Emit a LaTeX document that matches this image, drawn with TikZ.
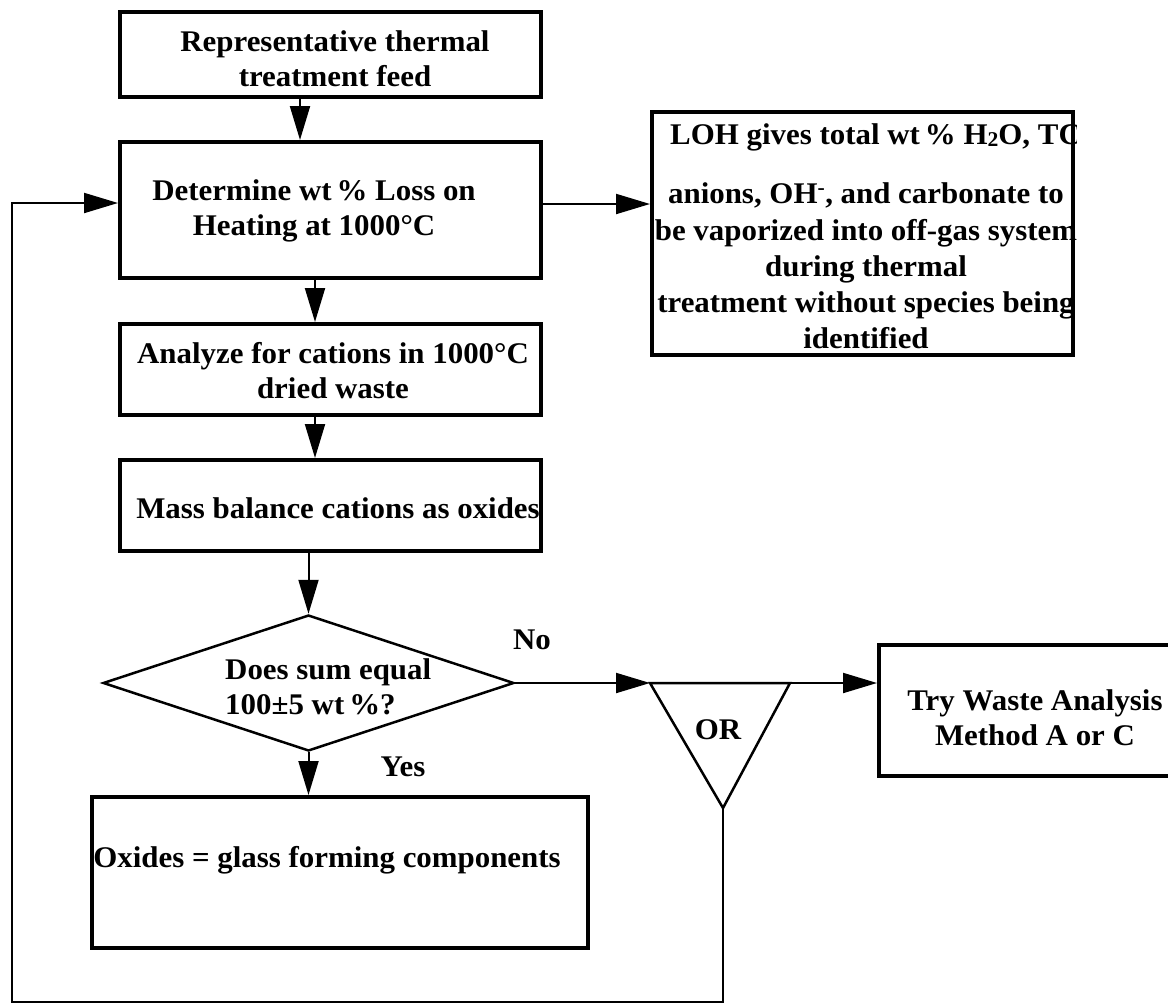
\documentclass[tikz,border=0pt]{standalone}
\usepackage{fontspec}
\setmainfont{Liberation Serif}[FakeStretch=1.03]
\usetikzlibrary{arrows.meta,shapes.geometric}
\begin{document}
\begin{tikzpicture}[x=1pt,y=-1pt,
  box/.style={draw, line width=4pt, inner sep=0pt, rectangle},
  txt/.style={font=\fontsize{30}{35}\selectfont\bfseries, align=center, inner sep=0pt},
  conn/.style={line width=2pt},
  arr/.style={conn, -{Triangle[length=34pt,width=20pt]}},
]
\useasboundingbox (0,0) rectangle (1168,1004);
\clip (0,0) rectangle (1168,1004);

% boxes
\node[box, minimum width=421pt, minimum height=85pt]  (b1)  at (330.5,54.5) {};
\node[box, minimum width=421pt, minimum height=136pt] (b2)  at (330.5,210) {};
\node[box, minimum width=421pt, minimum height=91pt]  (b3)  at (330.5,369.5) {};
\node[box, minimum width=421pt, minimum height=91pt]  (b4)  at (330.5,505.5) {};
\node[box, minimum width=496pt, minimum height=151pt] (b5)  at (340,872.5) {};
\node[box, minimum width=421pt, minimum height=243pt] (loh) at (862.5,233.5) {};
\node[box, minimum width=299pt, minimum height=131pt] (try) at (1028.5,710.5) {};
\node[draw, diamond, line width=2.5pt, inner sep=0pt, minimum width=411pt, minimum height=136pt] (dec) at (308.5,683) {};

% OR gate triangle
\coordinate (orL) at (650,683);
\coordinate (orR) at (790,683);
\coordinate (orB) at (723,808);
\draw[line width=2.5pt, line join=miter] (orL) -- (orR) -- (orB) -- cycle;

% texts
\node[txt] (t1) at (335,59) {Representative thermal\\treatment feed};
\node[txt] (t2) at (314,210.5) {Determine wt\,\% Loss on\\Heating at 1000°C};
\node[txt] (t3) at (333,370.5) {Analyze for cations in 1000°C\\dried waste};
\node[txt] (t4) at (338,508) {Mass balance cations as oxides};
\node[txt, align=left, anchor=west] (td) at (225,687) {Does sum equal\\100±5 wt\,\%?};
\node[txt] (t5) at (327,860) {Oxides = glass forming components};
\node[txt] (tt) at (1035,717.5) {Try Waste Analysis\\Method A or C};
\begin{scope}
\clip (650,110) rectangle (1076,357);
\node[txt, anchor=west] (tl1) at (670,137) {LOH gives total wt\,\% H{\raisebox{-0.15ex}{\fontsize{21}{21}\selectfont 2}}O, TC};
\node[txt, font=\fontsize{30}{36.25}\selectfont\bfseries] (tl2) at (866,266) {anions, OH\textsuperscript{-}, and carbonate to\\be vaporized into off-gas system\\during thermal\\treatment without species being\\identified};
\end{scope}

% labels
\node[txt] (lno)  at (532,640) {No};
\node[txt] (lyes) at (403,767) {Yes};
\node[txt] (lor)  at (718,730) {OR};

% connectors
\draw[arr] ([xshift=-30.5pt]b1.south) -- ([xshift=-30.5pt]b2.north);
\draw[arr] ([xshift=-15.5pt]b2.south) -- ([xshift=-15.5pt]b3.north);
\draw[arr] ([xshift=-15.5pt]b3.south) -- ([xshift=-15.5pt]b4.north);
\draw[arr] (dec.north |- b4.south) -- (dec.north);
\draw[arr] (dec.south) -- (dec.south |- b5.north);
\draw[arr] ([yshift=6pt]b2.east) -- ([yshift=6pt]b2.east -| loh.west);
\draw[arr] (dec.east) -- (orL);
\draw[arr] (orR) -- (orR -| try.west);
\coordinate (fbB) at (723,1002);
\coordinate (fbL) at (12,1002);
\draw[arr] (orB) -- (fbB) -- (fbL) |- ([yshift=7pt]b2.west);
\end{tikzpicture}
\end{document}
